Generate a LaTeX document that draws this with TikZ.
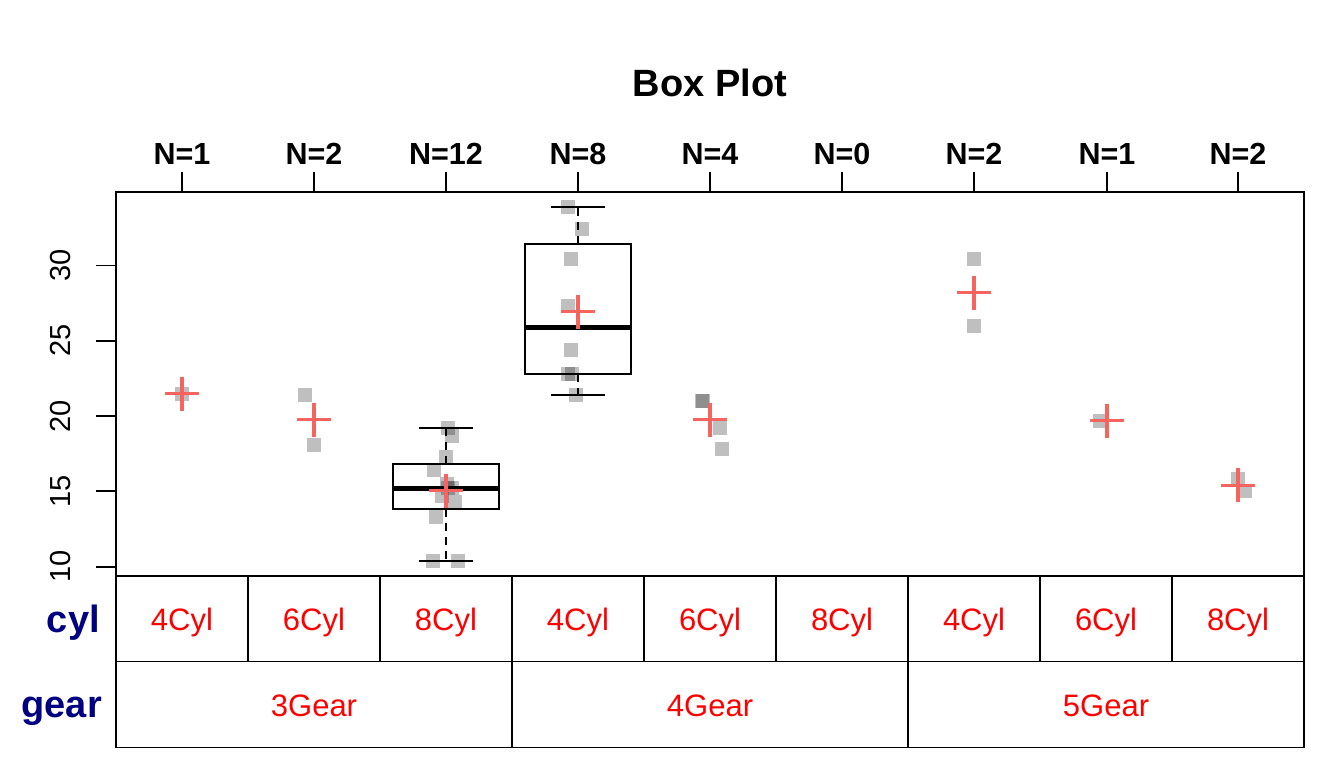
\documentclass[tikz,border=0pt]{standalone}
\usepackage{fontspec}
\setmainfont{Liberation Sans}
\definecolor{meanred}{RGB}{245,100,95}
\definecolor{levred}{RGB}{255,0,0}
\definecolor{facnavy}{RGB}{0,0,128}
\tikzset{
  plotframe/.style={line width=2pt},
  tabln/.style={line width=1.6pt},
  axtick/.style={line width=1.8pt},
  jit/.style={rectangle,draw=none,fill=black,fill opacity=0.25,minimum size=14pt,inner sep=0pt},
  meanmk/.style={draw=meanred,line width=3.2pt},
  boxln/.style={line width=2pt},
  medln/.style={line width=5pt},
  whisk/.style={line width=2pt,dash pattern=on 8pt off 6pt},
  titl/.style={anchor=base,font=\fontsize{38}{44}\selectfont\bfseries},
  nlab/.style={anchor=base,font=\fontsize{30.5}{36}\selectfont\bfseries},
  ylab/.style={anchor=base,rotate=90,font=\fontsize{29}{34}\selectfont},
  levlab/.style={anchor=base,text=levred,font=\fontsize{31}{36}\selectfont},
  faclab/.style={anchor=base east,inner sep=0pt,text=facnavy,font=\fontsize{38}{44}\selectfont\bfseries}
}
\begin{document}
\begin{tikzpicture}[x=1pt,y=1pt]
  \useasboundingbox (0,0) rectangle (1344,768);
  % title and group sizes
  \node[titl] (title) at (710,671) {Box Plot};
  \foreach \gx/\n [count=\k] in {182/1,314/2,446/12,578/8,710/4,842/0,974/2,1107/1,1238/2}{
    \node[nlab] (n\k) at (\gx,603) {N=\n};
    \draw[axtick] (\gx,576.3) -- (\gx,596.3);
  }
  % data area, y in mpg units
  \begin{scope}[yshift=50.7pt,y=15.06pt]
    \foreach \v in {10,15,...,30}{
      \draw[axtick] (96,\v) -- (116,\v);
      \node[ylab] (y\v) at (70,\v) {\v};
    }
    % boxes
    \draw[whisk] (446,16.85) -- (446,19.2) (446,13.8) -- (446,10.4);
    \draw[boxln] (419,19.2) -- (473,19.2) (419,10.4) -- (473,10.4);
    \draw[boxln] (393,13.8) rectangle (499,16.85);
    \draw[medln] (393,15.2) -- (499,15.2);
    \draw[whisk] (578,31.4) -- (578,33.9) (578,22.8) -- (578,21.4);
    \draw[boxln] (551,33.9) -- (605,33.9) (551,21.4) -- (605,21.4);
    \draw[boxln] (525,22.8) rectangle (631,31.4);
    \draw[medln] (525,25.85) -- (631,25.85);
    % jittered points
    \foreach \px/\pv [count=\k] in {182/21.5,305/21.4,314/18.1,
        448/19.2,452/18.7,446/17.3,434/16.4,447/15.5,452/15.2,448/15.2,442/14.7,455/14.3,436/13.3,433/10.4,458/10.4,
        568/33.9,582/32.4,571/30.4,568/27.3,571/24.4,572/22.8,568/22.8,576/21.4,
        702/21,703/21,720/19.2,722/17.8,974/30.4,974/26,1100/19.7,1238/15.8,1245/15.0}
      \node[jit] (p\k) at (\px,\pv) {};
    % group means
    \foreach \mx/\mv [count=\k] in {182/21.5,314/19.75,446/15.05,578/26.925,710/19.75,974/28.2,1107/19.7,1238/15.4}{
      \coordinate (m\k) at (\mx,\mv);
      \draw[meanmk] ([xshift=-17pt]m\k) -- ([xshift=17pt]m\k)
                    ([yshift=-17pt]m\k) -- ([yshift=17pt]m\k);
    }
  \end{scope}
  \draw[plotframe] (116,192.3) rectangle (1304,576.3);
  % level table
  \draw[tabln] (116,20.3) rectangle (1304,192.3);
  \draw[tabln] (116,106.3) -- (1304,106.3);
  \foreach \lx in {248,380,...,1172}
    \draw[tabln] (\lx,106.3) -- (\lx,192.3);
  \draw[tabln] (512,20.3) -- (512,106.3) (908,20.3) -- (908,106.3);
  \foreach \cx/\c [count=\k] in {182/4,314/6,446/8,578/4,710/6,842/8,974/4,1106/6,1238/8}
    \node[levlab] (cyl\k) at (\cx,137) {\c Cyl};
  \foreach \gx/\g [count=\k] in {314/3,710/4,1106/5}
    \node[levlab] (gear\k) at (\gx,51) {\g Gear};
  \node[faclab] (fcyl) at (100,135) {cyl};
  \node[faclab] (fgear) at (102,50) {gear};
\end{tikzpicture}
\end{document}
